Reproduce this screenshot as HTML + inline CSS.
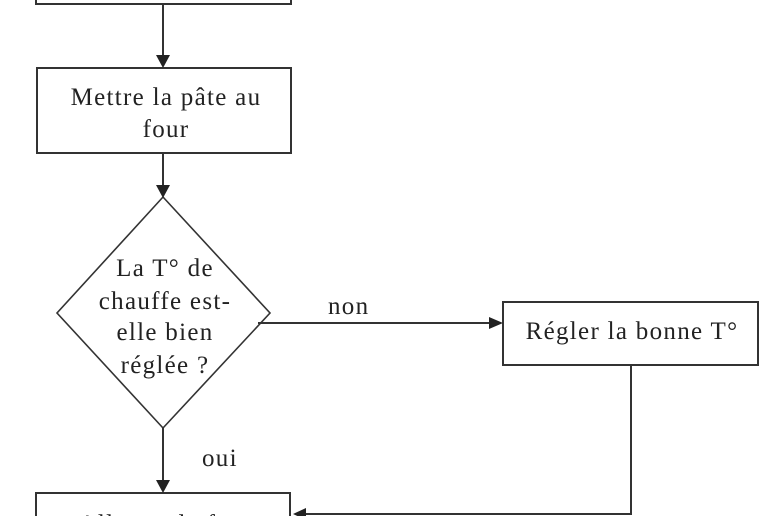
<!DOCTYPE html>
<html><head><meta charset="utf-8"><style>
html,body{margin:0;padding:0;background:#fff;width:780px;height:516px;overflow:hidden}
svg text{font-family:"Liberation Serif",serif;font-size:25px;letter-spacing:1.3px;fill:#222}
</style></head><body>
<svg width="780" height="516" viewBox="0 0 780 516" xmlns="http://www.w3.org/2000/svg">
<g stroke="#333" stroke-width="2" fill="none">
<rect x="36" y="-10" width="255" height="14"/>
<line x1="163" y1="4" x2="163" y2="56"/>
<rect x="37" y="68" width="254" height="85"/>
<line x1="163" y1="153" x2="163" y2="186"/>
<polygon points="163,197 270,313 163,428 57,313" stroke-width="1.6"/>
<line x1="258" y1="323" x2="490" y2="323"/>
<rect x="503" y="302" width="255" height="63"/>
<line x1="163" y1="428" x2="163" y2="481"/>
<rect x="36" y="493" width="254" height="40"/>
<polyline points="631,365 631,514 305,514"/>
</g>
<g fill="#222">
<polygon points="156,55 170,55 163,68"/>
<polygon points="156,185 170,185 163,198"/>
<polygon points="489,317 489,329 503,323"/>
<polygon points="156,480 170,480 163,493"/>
<polygon points="306,508 306,520 293,514"/>
</g>
<text x="166" y="105" text-anchor="middle">Mettre la pâte au</text>
<text x="166" y="137" text-anchor="middle">four</text>
<text x="165" y="276" text-anchor="middle">La T° de</text>
<text x="165" y="309" text-anchor="middle">chauffe est-</text>
<text x="165" y="340" text-anchor="middle">elle bien</text>
<text x="165" y="373" text-anchor="middle">réglée ?</text>
<text x="328" y="314">non</text>
<text x="632" y="339" text-anchor="middle">Régler la bonne T°</text>
<text x="202" y="466">oui</text>
<text x="166" y="532" text-anchor="middle">Allumer le four</text>
</svg>
</body></html>
